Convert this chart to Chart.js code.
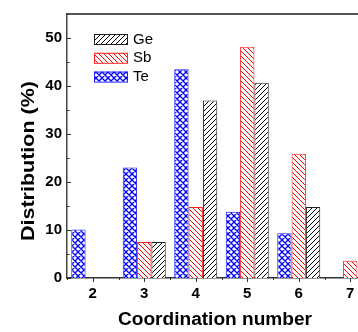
<!DOCTYPE html>
<html>
<head>
<meta charset="utf-8">
<script src="https://cdn.jsdelivr.net/npm/chart.js@4"></script>
<style>
  html, body { margin: 0; padding: 0; overflow: hidden; background: #fff; }
  #wrap { width: 376px; height: 332px; position: relative; }
</style>
</head>
<body>
<div id="wrap"><canvas id="c"></canvas></div>
<script>
  // ---------- Data ----------
  const CATS = ["2", "3", "4", "5", "6", "7"];
  const TE = [10.1, 23.0, 43.5, 13.8, 9.3, null];
  const SB = [null, 7.5, 14.8, 48.2, 25.9, 3.6];
  const GE = [null, 7.5, 37.0, 40.7, 14.8, null];
  const Y_TICKS = [0, 10, 20, 30, 40, 50];
  const Y_MINOR = [5, 15, 25, 35, 45];
  const LEGEND_ORDER = ["Ge", "Sb", "Te"];
  const X_TITLE = "Coordination number";
  const Y_TITLE = "Distribution (%)";

  const FONT = '"Liberation Sans", Arial, Helvetica, sans-serif';
  const ctx = document.getElementById("c").getContext("2d");

  // hatch patterns: "/" , "\" or crosshatch "x"
  function hatch(color, kind) {
    const s = kind === "x" ? 6 : 5;
    const c = document.createElement("canvas");
    c.width = s;
    c.height = s;
    const g = c.getContext("2d");
    g.fillStyle = "#fff";
    g.fillRect(0, 0, s, s);
    g.strokeStyle = color;
    g.lineWidth = kind === "x" ? 1.3 : 1;
    g.beginPath();
    if (kind === "/" || kind === "x") {
      g.moveTo(-1, s + 1); g.lineTo(s + 1, -1);
      g.moveTo(-1, 1); g.lineTo(1, -1);
      g.moveTo(s - 1, s + 1); g.lineTo(s + 1, s - 1);
    }
    if (kind === "\\" || kind === "x") {
      g.moveTo(-1, -1); g.lineTo(s + 1, s + 1);
      g.moveTo(s - 1, -1); g.lineTo(s + 1, 1);
      g.moveTo(-1, s - 1); g.lineTo(1, s + 1);
    }
    g.stroke();
    return ctx.createPattern(c, "repeat");
  }

  const STYLE = {
    Te: { fill: hatch("#0000ff", "x"), line: "#2020ff" },
    Sb: { fill: hatch("#ff0000", "\\"), line: "#ff2020" },
    Ge: { fill: hatch("#000000", "/"), line: "#202020" },
  };

  // ---------- Frame, ticks, legend, titles ----------
  const frame = {
    id: "frame",
    afterDraw(chart) {
      const { ctx: c, chartArea: a, scales } = chart;
      const x = scales.x, y = scales.y;
      c.save();
      c.strokeStyle = "#1a1a1a";
      c.lineWidth = 1.5;
      c.beginPath();
      c.moveTo(a.left, a.top);
      c.lineTo(a.right, a.top);
      c.stroke();

      c.lineWidth = 1;
      c.strokeStyle = "#333";
      c.beginPath();
      Y_TICKS.forEach((v) => {
        const py = Math.round(y.getPixelForValue(v)) + 0.5;
        c.moveTo(a.left, py); c.lineTo(a.left + 4, py);
      });
      Y_MINOR.forEach((v) => {
        const py = Math.round(y.getPixelForValue(v)) + 0.5;
        c.moveTo(a.left, py); c.lineTo(a.left + 2.5, py);
      });
      CATS.forEach((_, i) => {
        const px = Math.round(x.getPixelForValue(i)) + 0.5;
        c.moveTo(px, a.bottom); c.lineTo(px, a.bottom + 4);
      });
      for (let i = 0; i <= CATS.length; i++) {
        const px = Math.round(x.getPixelForValue(i - 0.5)) + 0.5;
        c.moveTo(px, a.bottom); c.lineTo(px, a.bottom + 2);
      }
      c.stroke();

      // legend
      LEGEND_ORDER.forEach((k, i) => {
        const bx = 94, by = 34 + i * 18.8;
        c.fillStyle = STYLE[k].fill;
        c.fillRect(bx, by, 34, 10);
        c.strokeStyle = STYLE[k].line;
        c.lineWidth = 1;
        c.strokeRect(bx + 0.5, by + 0.5, 33, 10);
        c.fillStyle = "#000";
        c.font = "15px " + FONT;
        c.textBaseline = "middle";
        c.textAlign = "left";
        c.fillText(k, 133, by + 5.5);
      });

      // axis titles
      c.fillStyle = "#000";
      c.font = "bold 18px " + FONT;
      c.textAlign = "center";
      c.textBaseline = "alphabetic";
      let w = c.measureText(X_TITLE).width;
      c.save();
      c.translate(215, 325);
      c.scale(194 / w, 1);
      c.fillText(X_TITLE, 0, 0);
      c.restore();

      w = c.measureText(Y_TITLE).width;
      c.save();
      c.translate(34, 161);
      c.rotate(-Math.PI / 2);
      c.scale(160 / w, 1);
      c.fillText(Y_TITLE, 0, 0);
      c.restore();
      c.restore();
    },
  };

  const mk = (label, data) => ({
    label,
    data,
    backgroundColor: STYLE[label].fill,
    borderColor: STYLE[label].line,
    borderWidth: 1,
  });

  new Chart(ctx, {
    type: "bar",
    data: {
      labels: CATS,
      datasets: [mk("Te", TE), mk("Sb", SB), mk("Ge", GE)],
    },
    options: {
      responsive: true,
      maintainAspectRatio: false,
      animation: false,
      layout: { padding: { top: 11, left: 0, right: 0, bottom: 0 } },
      datasets: { bar: { categoryPercentage: 0.835, barPercentage: 1 } },
      plugins: { legend: { display: false }, tooltip: { enabled: false } },
      scales: {
        x: {
          offset: true,
          grid: { display: false, drawTicks: false },
          border: { display: true, color: "#333", width: 1.5 },
          ticks: { color: "#000", padding: 7, font: { family: FONT, size: 15, weight: "bold" } },
          afterFit: (s) => { s.height = 54; },
        },
        y: {
          min: 0,
          max: 55,
          grid: { display: false, drawTicks: false },
          border: { display: true, color: "#444", width: 1.5 },
          ticks: { color: "#000", padding: 5, font: { family: FONT, size: 15, weight: "bold" } },
          afterBuildTicks: (s) => { s.ticks = Y_TICKS.map((v) => ({ value: v })); },
          afterFit: (s) => { s.width = 67; },
        },
      },
    },
    plugins: [frame],
  });
</script>
</body>
</html>
